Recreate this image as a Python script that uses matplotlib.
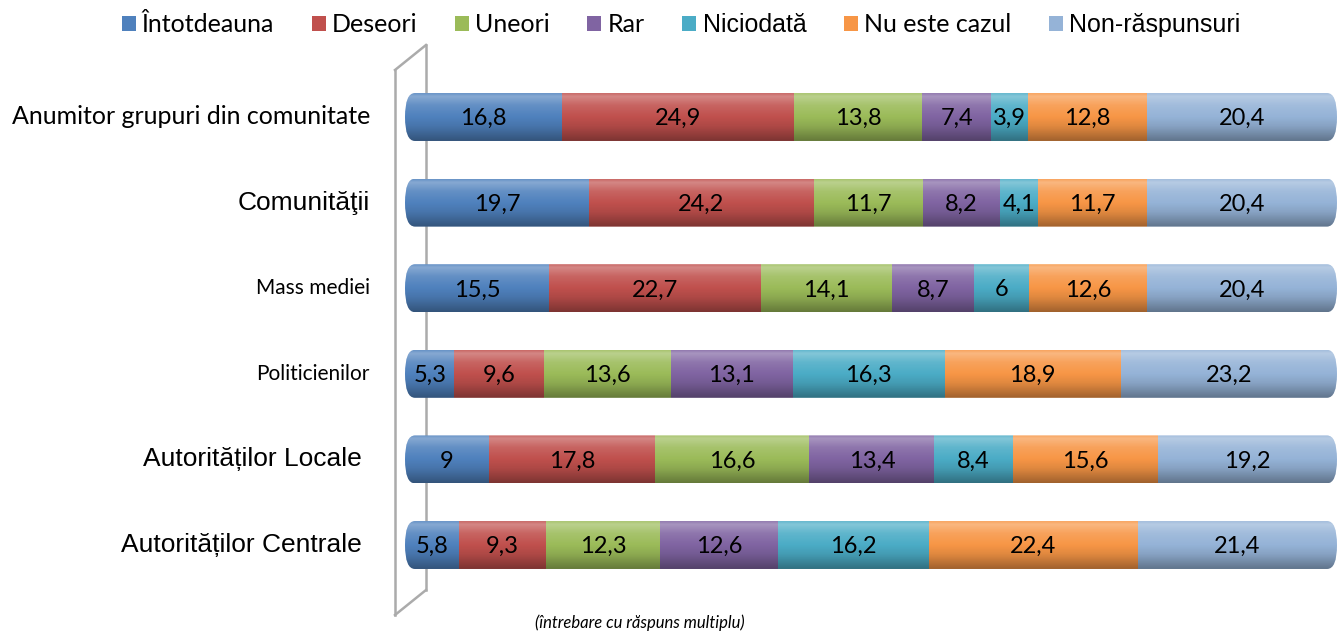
import numpy as np
import matplotlib
matplotlib.use("Agg")
import matplotlib.pyplot as plt
from matplotlib.patches import FancyBboxPatch, Patch
from matplotlib.lines import Line2D

# Datos del gráfico
categorias = [
    "Anumitor grupuri din comunitate",
    "Comunităţii",
    "Mass mediei",
    "Politicienilor",
    "Autorităților Locale",
    "Autorităților Centrale",
]
series = ["Întotdeauna", "Deseori", "Uneori", "Rar", "Niciodată",
          "Nu este cazul", "Non-răspunsuri"]
valores = {
    "Întotdeauna":    [16.8, 19.7, 15.5, 5.3, 9.0, 5.8],
    "Deseori":        [24.9, 24.2, 22.7, 9.6, 17.8, 9.3],
    "Uneori":         [13.8, 11.7, 14.1, 13.6, 16.6, 12.3],
    "Rar":            [7.4, 8.2, 8.7, 13.1, 13.4, 12.6],
    "Niciodată":      [3.9, 4.1, 6.0, 16.3, 8.4, 16.2],
    "Nu este cazul":  [12.8, 11.7, 12.6, 18.9, 15.6, 22.4],
    "Non-răspunsuri": [20.4, 20.4, 20.4, 23.2, 19.2, 21.4],
}
colores = ["#4F81BD", "#C0504D", "#9BBB59", "#8064A2", "#4BACC6",
           "#F79646", "#95B3D7"]

# Estilo: mezcla de fuentes tipo Calibri (Lato) y tipo Arial (Liberation Sans)
CALIBRI = ["Lato", "DejaVu Sans"]
ARIAL = ["Liberation Sans", "DejaVu Sans"]
estilo_cat = [(CALIBRI, 18), (ARIAL, 19), (CALIBRI, 15), (CALIBRI, 15),
              (ARIAL, 19), (ARIAL, 19)]
margen_cat = [370, 370, 370, 370, 362, 362]
estilo_leg = [CALIBRI, CALIBRI, CALIBRI, CALIBRI, ARIAL, CALIBRI, ARIAL]
plt.rcParams["font.family"] = CALIBRI

W, H = 1343, 637
fig = plt.figure(figsize=(W / 100, H / 100), dpi=100)
fig.patch.set_facecolor("white")

# Ejes: 0..100 ocupa x=405..1337 px, filas centradas en 117..545 px
paso = 85.6
ancho_px = 932
ax = fig.add_axes([405 / W, 1 - (545 + paso / 2) / H, ancho_px / W, 6 * paso / H])
ax.axis("off")

alto = 0.56
px_x = ancho_px / 100.0
rx = 10 / px_x
aspect = (alto / 2) / rx

# Degradado tipo cilindro
t = np.linspace(0, 1, 64)
brillo = np.interp(t, [0, 0.06, 0.25, 0.7, 1.0], [0.15, 0.32, 0.12, -0.10, -0.35])
rgba = np.zeros((64, 1, 4))
rgba[..., :3] = np.where(brillo[:, None, None] > 0, 1.0, 0.0)
rgba[..., 3] = np.abs(brillo)[:, None]

for i, cat in enumerate(categorias):
    clip = FancyBboxPatch((0, i - alto / 2), 100, alto,
                          boxstyle=f"round,pad=0,rounding_size={rx}",
                          mutation_aspect=aspect, facecolor="none",
                          edgecolor="none", transform=ax.transData)
    ax.add_patch(clip)
    izq = 0.0
    for s, col in zip(series, colores):
        v = valores[s][i]
        b = ax.barh(i, v, left=izq, height=alto, color=col, edgecolor="none")
        b[0].set_clip_path(clip)
        etiqueta = f"{v:g}".replace(".", ",")
        ax.text(izq + v / 2, i + 0.02, etiqueta, ha="center", va="center",
                fontsize=17, color="black", zorder=5)
        izq += v
    im = ax.imshow(rgba, extent=(0, 100, i + alto / 2, i - alto / 2),
                   aspect="auto", zorder=3, interpolation="bilinear")
    im.set_clip_path(clip)
    fam, fs = estilo_cat[i]
    fig.text(margen_cat[i] / W, 1 - (117 + i * paso) / H, cat,
             ha="right", va="center", fontsize=fs, family=fam)

ax.set_xlim(0, 100)
ax.set_ylim(5.5, -0.5)

# Pared lateral 3D
gris = "#ABABAB"
pared = [((395, 70), (395, 615)), ((395, 70), (426, 45)),
         ((426, 45), (426, 590)), ((395, 615), (426, 590))]
for (x0, y0), (x1, y1) in pared:
    fig.add_artist(Line2D([x0 / W, x1 / W], [1 - y0 / H, 1 - y1 / H],
                          transform=fig.transFigure, color=gris, lw=1.8,
                          zorder=0))

# Leyenda
handles = [Patch(facecolor=c, edgecolor="none") for c in colores]
leg = fig.legend(handles, series, loc="center",
                 bbox_to_anchor=(681 / W, 1 - 25 / H),
                 ncol=7, frameon=False, fontsize=18, handlelength=0.56,
                 handleheight=0.56, handletextpad=0.25, columnspacing=1.5)
for txt, fam in zip(leg.get_texts(), estilo_leg):
    txt.set_fontfamily(fam)

fig.text(640 / W, 1 - 623 / H, "(întrebare cu răspuns multiplu)",
         ha="center", va="center", fontsize=12, style="italic")

fig.savefig("out.png", dpi=100, facecolor="white")
